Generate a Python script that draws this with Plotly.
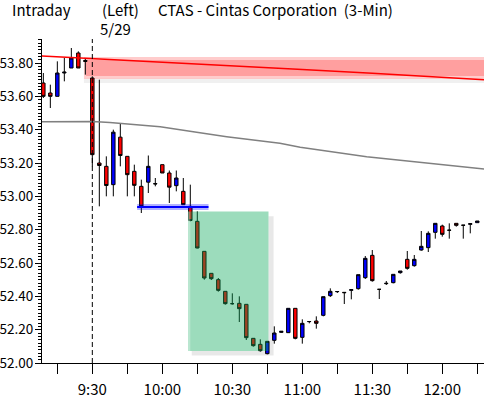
import plotly.graph_objects as go

# ---- data (bar index: 0 = 9:30 bar of 5/29, 3-minute bars; negatives = previous session) ----
bar_idx = list(range(-7, 56))
opens = [53.68, 53.62, 53.60, 53.74, 53.77, 53.86, 53.815,
         53.71, 53.20, 53.18, 53.07, 53.355, 53.24, 53.15, 53.06, 53.085, 53.074,
         53.19, 53.14, 53.064, 53.03, 52.94, 52.85, 52.67, 52.538, 52.50, 52.43,
         52.356, 52.358, 52.352, 52.148, 52.112, 52.056, 52.136, 52.184, 52.182, 52.328,
         52.154, 52.248, 52.252, 52.286, 52.404, 52.428, 52.424, 52.436, 52.446, 52.512,
         52.646, 52.442, 52.476, 52.482, 52.542, 52.622, 52.584, 52.678, 52.692, 52.784,
         52.822, 52.796, 52.838, 52.826, 52.832, 52.842]
highs = [53.74, 53.67, 53.81, 53.83, 53.89, 53.87, 53.83,
         53.72, 53.70, 53.24, 53.40, 53.44, 53.24, 53.19, 53.10, 53.245, 53.11,
         53.19, 53.155, 53.155, 53.11, 53.07, 52.91, 52.67, 52.54, 52.51, 52.43,
         52.418, 52.40, 52.352, 52.15, 52.142, 52.13, 52.22, 52.192, 52.328, 52.328,
         52.262, 52.252, 52.28, 52.398, 52.448, 52.43, 52.424, 52.442, 52.53, 52.642,
         52.678, 52.442, 52.492, 52.532, 52.552, 52.672, 52.648, 52.792, 52.79, 52.838,
         52.83, 52.838, 52.838, 52.826, 52.838, 52.852]
lows = [53.59, 53.53, 53.60, 53.69, 53.77, 53.77, 53.73,
        53.18, 52.94, 53.00, 53.00, 53.18, 53.00, 53.00, 52.90, 53.02, 53.06,
        53.14, 52.96, 53.03, 52.95, 52.85, 52.688, 52.50, 52.498, 52.428, 52.35,
        52.35, 52.246, 52.138, 52.098, 52.068, 52.052, 52.116, 52.18, 52.18, 52.142,
        52.116, 52.238, 52.206, 52.28, 52.396, 52.42, 52.354, 52.382, 52.44, 52.504,
        52.488, 52.384, 52.468, 52.478, 52.536, 52.56, 52.578, 52.674, 52.666, 52.746,
        52.758, 52.746, 52.818, 52.746, 52.778, 52.842]
closes = [53.60, 53.60, 53.74, 53.745, 53.83, 53.77, 53.81,
          53.25, 53.185, 53.065, 53.385, 53.245, 53.13, 53.066, 52.94, 53.18, 53.076,
          53.14, 53.055, 53.11, 52.95, 52.855, 52.69, 52.51, 52.506, 52.436, 52.356,
          52.356, 52.326, 52.152, 52.104, 52.074, 52.13, 52.18, 52.19, 52.328, 52.148,
          52.238, 52.249, 52.238, 52.398, 52.43, 52.429, 52.422, 52.44, 52.53, 52.628,
          52.494, 52.442, 52.478, 52.532, 52.552, 52.568, 52.622, 52.70, 52.778, 52.838,
          52.772, 52.797, 52.826, 52.827, 52.836, 52.852]

# upper red trend line (with pink zone) and grey average line
red_line_idx = [-7.2, 0, 10, 20, 30, 40, 50, 56]
red_line_val = [53.842, 53.827, 53.804, 53.782, 53.761, 53.738, 53.714, 53.699]
grey_line_idx = [-7.2, 0, 2.5, 6.3, 9.7, 14.9, 19.2, 26.8, 29.7, 39.2, 46.8, 55, 56]
grey_line_val = [53.448, 53.449, 53.443, 53.428, 53.418, 53.384, 53.358, 53.318,
                 53.294, 53.238, 53.206, 53.168, 53.164]

support_level = 52.936
tick_idx = [-5, 0, 5, 10, 15, 20, 25, 30, 35, 40, 45, 50, 55]
tick_text = ["", "9:30", "", "10:00", "", "10:30", "", "11:00", "", "11:30", "", "12:00", ""]
y_ticks = [52.0, 52.2, 52.4, 52.6, 52.8, 53.0, 53.2, 53.4, 53.6, 53.8]

FONT = "Noto Sans CJK JP"

fig = go.Figure()

# pink resistance zone
fig.add_shape(type="rect", x0=-1.2, x1=57, y0=53.680, y1=53.705, line_width=0,
              fillcolor="rgba(0,0,0,0.06)", layer="below")
fig.add_shape(type="rect", x0=-1.2, x1=57, y0=53.704, y1=53.836, line_width=0,
              fillcolor="rgba(255,0,0,0.2)", layer="below")
fig.add_shape(type="rect", x0=-0.9, x1=57, y0=53.722, y1=53.818, line_width=0,
              fillcolor="rgba(255,0,0,0.22)", layer="below")

fig.add_trace(go.Scatter(x=grey_line_idx, y=grey_line_val, mode="lines",
                         line=dict(color="#808080", width=1.5), hoverinfo="skip"))
fig.add_trace(go.Scatter(x=red_line_idx, y=red_line_val, mode="lines",
                         line=dict(color="#ff0000", width=1.5), hoverinfo="skip"))

fig.add_trace(go.Candlestick(
    x=bar_idx, open=opens, high=highs, low=lows, close=closes,
    increasing=dict(fillcolor="#0000ff", line=dict(color="black", width=1)),
    decreasing=dict(fillcolor="#ff0000", line=dict(color="black", width=1)),
    whiskerwidth=0,
))

# support line with glow
fig.add_shape(type="line", x0=6.4, x1=16.6, y0=support_level, y1=support_level,
              line=dict(color="rgba(0,0,255,0.3)", width=6), layer="above")
fig.add_shape(type="line", x0=6.4, x1=16.6, y0=support_level, y1=support_level,
              line=dict(color="#0000ff", width=2), layer="above")

# green box with soft shadow
fig.add_shape(type="rect", x0=25.17, x1=25.9, y0=52.045, y1=52.88, line_width=0,
              fillcolor="rgba(0,0,0,0.09)", layer="above")
fig.add_shape(type="rect", x0=14.2, x1=25.17, y0=52.045, y1=52.072, line_width=0,
              fillcolor="rgba(0,0,0,0.09)", layer="above")
fig.add_shape(type="rect", x0=13.67, x1=25.17, y0=52.072, y1=52.909, line_width=0,
              fillcolor="rgba(7,167,88,0.4)", layer="above")
fig.add_shape(type="rect", x0=13.67, x1=14.0, y0=52.072, y1=52.909, line_width=0,
              fillcolor="rgba(255,255,255,0.3)", layer="above")

# session divider
fig.add_shape(type="line", x0=0, x1=0, y0=0, y1=1, yref="paper",
              line=dict(color="black", width=1, dash="5px,3px"), layer="above")

# page pixel -> paper coords (plot area spans x 42..484, y 39..363 in the page)
def px_x(p):
    return (p - 42) / 442.0

def px_y(p):
    return (363 - p) / 324.0

texts = [("Intraday", 10, 9), ("(Left)", 100, 9),
         ("CTAS - Cintas Corporation\u00a0\u00a0(3-Min)", 156, 9), ("5/29", 98, 28)]
for t, x, y in texts:
    fig.add_annotation(text=t, x=px_x(x), y=px_y(y), xref="paper", yref="paper",
                       xanchor="left", yanchor="middle", showarrow=False,
                       font=dict(family=FONT, size=15, color="black"))

fig.update_layout(
    width=484, height=399,
    margin=dict(l=42, r=0, t=39, b=36, autoexpand=False),
    paper_bgcolor="white", plot_bgcolor="white",
    showlegend=False,
    font=dict(family=FONT, size=14, color="black"),
    xaxis=dict(range=[-7.19, 55.96], tickvals=tick_idx, ticktext=tick_text,
               ticks="outside", ticklen=10, tickcolor="black", showline=True,
               linecolor="black", linewidth=1, showgrid=False, zeroline=False,
               rangeslider=dict(visible=False), ticklabelstandoff=3,
               automargin=False, tickfont=dict(family=FONT, size=15)),
    yaxis=dict(range=[52.0, 53.944], tickvals=y_ticks, tickformat=".2f",
               ticks="outside", ticklen=6, tickcolor="black", showline=True,
               linecolor="black", linewidth=1, showgrid=False, zeroline=False,
               automargin=False, ticklabelstandoff=-1,
               minor=dict(dtick=0.02, ticklen=3, ticks="outside", tickcolor="black"),
               tickfont=dict(family=FONT, size=13.5)),
)

# remove the default 8px page margin so the figure fills the window exactly
fig.write_html("out.html", config={"displayModeBar": False},
               post_script="document.body.style.margin='0';")
